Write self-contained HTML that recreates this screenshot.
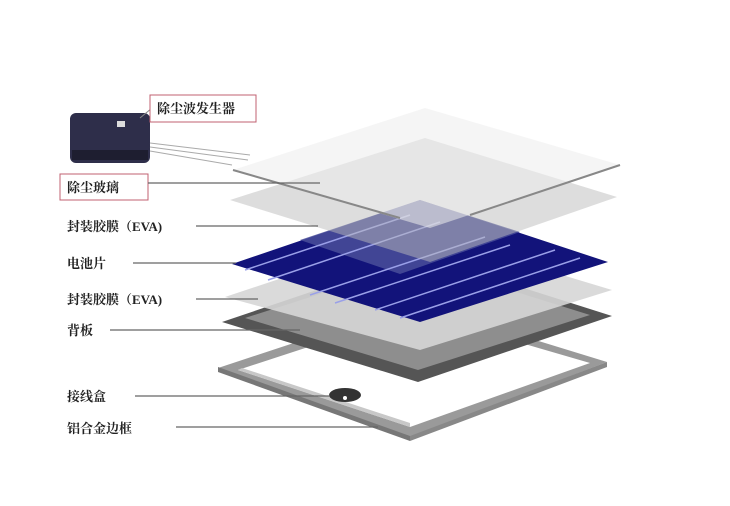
<!DOCTYPE html>
<html><head><meta charset="utf-8"><style>
html,body{margin:0;padding:0;background:#fff}
svg{display:block}
text{font-family:"Liberation Serif","Noto Serif CJK SC",serif;font-weight:bold;font-size:13px;fill:#222}
</style></head><body>
<svg width="730" height="506" viewBox="0 0 730 506" xmlns="http://www.w3.org/2000/svg">
<rect width="730" height="506" fill="#fff"/>
<!-- frame -->
<polygon points="218,368 415,303 607,362 410,437" fill="#9a9a9a"/>
<polygon points="218,372 410,441 410,436 218,367" fill="#777"/>
<polygon points="410,441 607,367 607,362 410,436" fill="#888"/>
<polygon points="238,370 415,312 590,363 410,427" fill="#fff"/>
<polygon points="238,370 410,427 410,423 242,368" fill="#c8c8c8"/>
<!-- junction box -->
<ellipse cx="345" cy="395" rx="16" ry="7" fill="#333"/>
<circle cx="345" cy="398" r="2" fill="#fff"/>
<!-- backsheet -->
<polygon points="222,322 420,255 612,316 418,382" fill="#555"/>
<polygon points="245,318 420,262 590,315 418,370" fill="#8e8e8e"/>
<!-- EVA2 -->
<polygon points="225,297 420,232 612,290 420,350" fill="#d6d6d6" opacity="0.9"/>
<!-- cells -->
<polygon points="232,264 420,200 608,262 420,322" fill="#12137a"/>
<polygon points="300,240 420,200 520,232 400,274" fill="#4a4f9a" opacity="0.85"/>
<g stroke="#9aa0e8" stroke-width="1.5">
<line x1="245" y1="270" x2="410" y2="215"/>
<line x1="268" y1="280" x2="440" y2="222"/>
<line x1="310" y1="295" x2="485" y2="237"/>
<line x1="335" y1="303" x2="510" y2="245"/>
<line x1="375" y1="310" x2="555" y2="250"/>
<line x1="400" y1="318" x2="580" y2="258"/>
</g>
<!-- EVA1 -->
<polygon points="230,200 425,138 617,197 430,262" fill="#bcbcbc" opacity="0.5"/>
<!-- top glass -->
<polygon points="233,170 425,108 620,165 430,228" fill="#ececec" opacity="0.55"/>
<line x1="233" y1="170" x2="400" y2="218" stroke="#888" stroke-width="2"/>
<line x1="620" y1="165" x2="470" y2="215" stroke="#888" stroke-width="2"/>
<!-- device -->
<rect x="70" y="113" width="80" height="50" rx="6" fill="#2e2e4a"/>
<rect x="72" y="150" width="76" height="10" fill="#1e1e30"/>
<rect x="117" y="121" width="8" height="6" fill="#ddd"/>
<g stroke="#aaa" stroke-width="1"><line x1="150" y1="143" x2="250" y2="155"/><line x1="150" y1="147" x2="248" y2="160"/><line x1="150" y1="151" x2="232" y2="165"/></g>
<line x1="140" y1="118" x2="152" y2="108" stroke="#888"/>
<!-- label boxes -->
<rect x="150" y="95" width="106" height="27" fill="#fff" stroke="#c06070"/>
<text x="157" y="113">除尘波发生器</text>
<rect x="60" y="174" width="88" height="26" fill="#fff" stroke="#c06070"/>
<text x="67" y="192">除尘玻璃</text>
<g stroke="#666" stroke-width="1.2">
<line x1="148" y1="183" x2="320" y2="183"/>
<line x1="196" y1="226" x2="318" y2="226"/>
<line x1="133" y1="263" x2="236" y2="263"/>
<line x1="196" y1="299" x2="258" y2="299"/>
<line x1="110" y1="330" x2="300" y2="330"/>
<line x1="135" y1="396" x2="330" y2="396"/>
<line x1="176" y1="427" x2="378" y2="427"/>
</g>
<text x="67" y="231">封装胶膜（EVA)</text>
<text x="67" y="268">电池片</text>
<text x="67" y="304">封装胶膜（EVA)</text>
<text x="67" y="335">背板</text>
<text x="67" y="401">接线盒</text>
<text x="67" y="433">铝合金边框</text>
</svg>
</body></html>
